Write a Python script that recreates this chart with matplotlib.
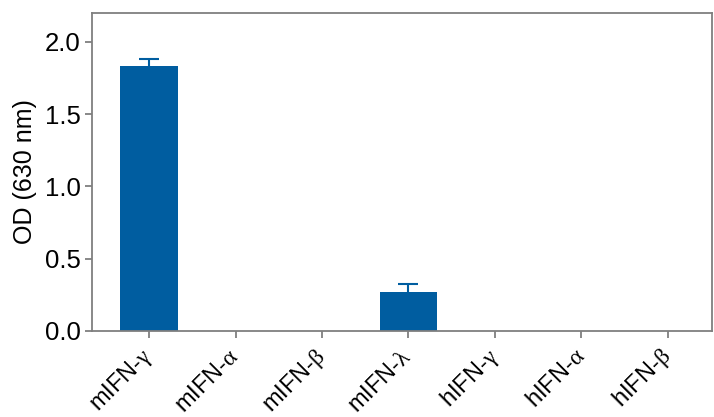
import matplotlib
matplotlib.use("Agg")
import matplotlib.pyplot as plt
import numpy as np

plt.rcParams['font.family'] = ['Liberation Sans', 'DejaVu Sans']
plt.rcParams['mathtext.fontset'] = 'custom'
plt.rcParams['mathtext.rm'] = 'Liberation Serif'
plt.rcParams['mathtext.it'] = 'Liberation Serif:italic'

categories = ['mIFN-$\\mathrm{\\gamma}$', 'mIFN-$\\mathrm{\\alpha}$', 'mIFN-$\\mathrm{\\beta}$',
              'mIFN-$\\mathrm{\\lambda}$', 'hIFN-$\\mathrm{\\gamma}$', 'hIFN-$\\mathrm{\\alpha}$',
              'hIFN-$\\mathrm{\\beta}$']
values = [1.834, 0.0, 0.0, 0.270, 0.0, 0.0, 0.0]
errors = [0.048, 0.0, 0.0, 0.053, 0.0, 0.0, 0.0]
yticks = [0.0, 0.5, 1.0, 1.5, 2.0]

color = '#005DA0'
spine_c = '#7f7f7f'

fig = plt.figure(figsize=(7.14, 4.17), dpi=100)
ax = fig.add_axes([92/714, 1-331/417, (712-92)/714, (331-13)/417])

x = np.arange(len(categories))
vals = np.array(values)
errs = np.array(errors)
ax.bar(x, vals, width=0.67, color=color, zorder=2)
m = errs > 0
eb = ax.errorbar(x[m], vals[m], yerr=[np.zeros(m.sum()), errs[m]], fmt='none',
                 ecolor=color, elinewidth=1.5, capsize=7.5, capthick=1.5, zorder=1)
caps = eb[1]
if len(caps) == 2:
    caps[0].set_visible(False)

ax.set_xlim(-0.66, 6.51)
ax.set_ylim(0, 2.2)
ax.set_yticks(yticks)
ax.set_yticklabels([f'{t:.1f}' for t in yticks])
ax.set_xticks(x)
ax.set_xticklabels(categories, rotation=45, ha='right', va='center', rotation_mode='anchor')
ax.set_ylabel('OD (630 nm)', fontsize=18, labelpad=6)

for s in ax.spines.values():
    s.set_color(spine_c)
    s.set_linewidth(1.3)
ax.tick_params(axis='y', colors=spine_c, labelcolor='black', labelsize=18.5,
               length=5, width=1.3, direction='out', pad=3)
ax.tick_params(axis='x', colors=spine_c, labelcolor='black', labelsize=17,
               length=5, width=1.3, direction='out', pad=11)

fig.savefig('out.png', dpi=100)
